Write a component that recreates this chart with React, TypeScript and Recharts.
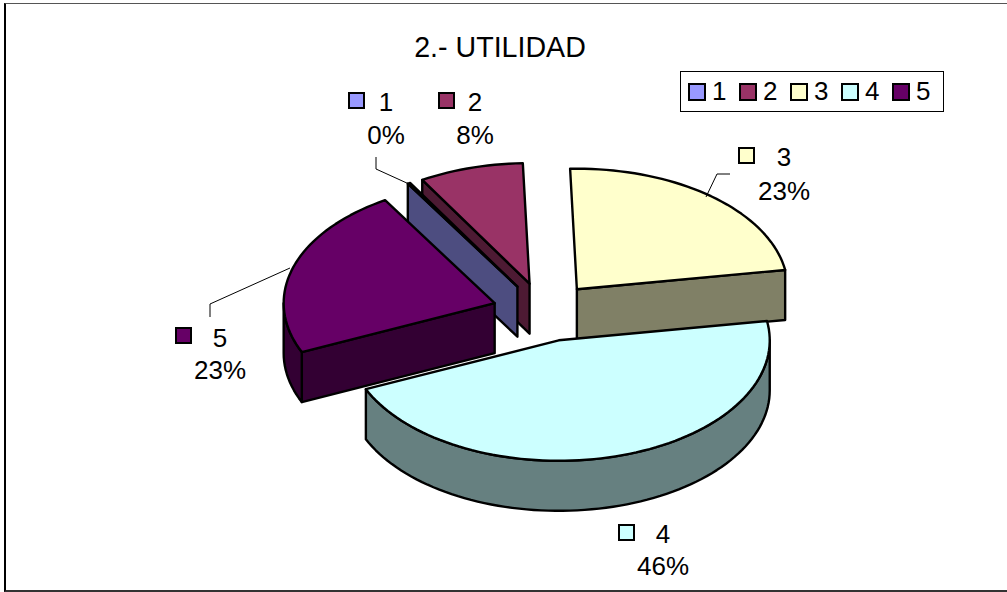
import { PieChart, Pie, Legend } from 'recharts'

const NAMES = ['1', '2', '3', '4', '5']
const VALUES = [0.2, 8, 23, 46, 23]
const TOP_COLORS = ['#9999FF', '#993366', '#FFFFCC', '#CCFFFF', '#660066']
const WALL_COLORS = ['#4D4D80', '#4D1A33', '#808066', '#668080', '#330033']

// slices are painted back to front, going anticlockwise from slice 3
const PAINT_ORDER = [2, 1, 0, 4, 3]

const FONT = '"Liberation Sans", Arial, sans-serif'
const TILT = 120.5 / 211
const DEPTH = 50
const EXPLODE = 0.245

// where each data label sits, and its leader line if it has one
const LABEL_SPOTS = [
  { keyX: 349, keyY: 93, textX: 386, nameY: 111, pctY: 144, leader: [[376, 157], [376, 169], [409, 184]] },
  { keyX: 439, keyY: 93, textX: 475, nameY: 111, pctY: 144, leader: null },
  { keyX: 739, keyY: 148, textX: 784, nameY: 166, pctY: 200, leader: [[730, 174], [717, 174], [706, 197]] },
  { keyX: 619, keyY: 525, textX: 663, nameY: 543, pctY: 575, leader: null },
  { keyX: 176, keyY: 328, textX: 220, nameY: 347, pctY: 379, leader: [[210, 317], [210, 304], [290, 268]] },
]

const chartData = PAINT_ORDER.map(i => ({ name: NAMES[i], value: VALUES[i], fill: TOP_COLORS[i], wall: WALL_COLORS[i] }))

const rad = (d: number) => (d * Math.PI) / 180

// a = degrees clockwise from the top of the pie
function rim(cx: number, cy: number, r: number, a: number) {
  return [cx + r * Math.sin(rad(a)), cy - r * TILT * Math.cos(rad(a))]
}

function arcPath(cx: number, cy: number, r: number, from: number, to: number, dy = 0) {
  const pts: string[] = []
  const steps = Math.max(2, Math.ceil(Math.abs(to - from) / 2))
  for (let i = 0; i <= steps; i++) {
    const [x, y] = rim(cx, cy, r, from + ((to - from) * i) / steps)
    pts.push(`${x.toFixed(2)} ${(y + dy).toFixed(2)}`)
  }
  return pts
}

function Slice3D(props: any) {
  const { cx, cy, outerRadius: r, startAngle, endAngle, fill, payload } = props
  const a0 = 90 - Math.max(startAngle, endAngle)
  const a1 = 90 - Math.min(startAngle, endAngle)
  const mid = (a0 + a1) / 2
  const [ox, oy] = rim(cx, cy, r * EXPLODE, mid)
  const line = { stroke: '#000', strokeWidth: 2.4, strokeLinejoin: 'round' as const }
  const wall = payload.wall ?? props.wall

  const quad = (a: number) => {
    const [x, y] = rim(ox, oy, r, a)
    return `M${ox} ${oy}L${x} ${y}L${x} ${y + DEPTH}L${ox} ${oy + DEPTH}Z`
  }
  const startSeen = Math.sin(rad(a0)) < -0.1
  const endSeen = Math.sin(rad(a1)) > 0.1

  // outer wall only for the part of the rim that faces the viewer
  const walls: { from: number; to: number }[] = []
  for (const k of [0, 360, -360]) {
    const from = Math.max(a0, 90 + k)
    const to = Math.min(a1, 270 + k)
    if (to > from) walls.push({ from, to })
  }

  const top = `M${ox} ${oy}L${arcPath(ox, oy, r, a0, a1).join('L')}Z`

  return (
    <g>
      {startSeen && <path d={quad(a0)} fill={wall} {...line} />}
      {endSeen && <path d={quad(a1)} fill={wall} {...line} />}
      {walls.map((w, i) => (
        <path
          key={i}
          d={`M${arcPath(ox, oy, r, w.from, w.to).join('L')}L${arcPath(ox, oy, r, w.to, w.from, DEPTH).join('L')}Z`}
          fill={wall}
          {...line}
        />
      ))}
      <path d={top} fill={fill} {...line} />
    </g>
  )
}

function SliceLabel(props: any) {
  const { name, percent, fill } = props
  const spot = LABEL_SPOTS[NAMES.indexOf(name)]
  return (
    <g fontFamily={FONT} fontSize={26} fill="#000" textAnchor="middle">
      {spot.leader && (
        <polyline points={spot.leader.map(p => p.join(',')).join(' ')} fill="none" stroke="#000" strokeWidth={1} />
      )}
      <rect x={spot.keyX} y={spot.keyY} width={15} height={15} fill={fill} stroke="#000" strokeWidth={2} />
      <text x={spot.textX} y={spot.nameY}>{name}</text>
      <text x={spot.textX} y={spot.pctY}>{`${Math.round(percent * 100)}%`}</text>
    </g>
  )
}

function LegendBox({ payload }: any) {
  const items = [...(payload ?? [])].sort((a: any, b: any) => NAMES.indexOf(a.value) - NAMES.indexOf(b.value))
  return (
    <div
      style={{
        boxSizing: 'border-box',
        width: 264,
        height: 41,
        border: '1px solid #000',
        background: '#fff',
        display: 'flex',
        alignItems: 'center',
        paddingLeft: 7,
        fontFamily: FONT,
        fontSize: 26,
        color: '#000',
      }}
    >
      {items.map((p: any) => (
        <div key={p.value} style={{ display: 'flex', alignItems: 'center', width: 51.2 }}>
          <span style={{ boxSizing: 'border-box', width: 18, height: 18, border: '2px solid #000', background: p.color, marginRight: 6 }} />
          <span>{p.value}</span>
        </div>
      ))}
    </div>
  )
}

export default function App() {
  return (
    <div style={{ position: 'fixed', left: 0, top: 0, width: 1007, height: 592, background: '#fff', overflow: 'hidden' }}>
      <div style={{ position: 'absolute', left: 4, top: 3, width: 1003, height: 589, borderLeft: '2px solid #000', borderTop: '1px solid #555', borderBottom: '2px solid #333', boxSizing: 'border-box' }} />
      <div style={{ position: 'absolute', left: 0, top: 0 }}>
        <PieChart width={1007} height={592} margin={{ top: 0, right: 0, bottom: 0, left: 0 }}>
          <text x={500} y={57} textAnchor="middle" fontFamily={FONT} fontSize={28.6} fill="#000">2.- UTILIDAD</text>
          <Pie
            data={chartData}
            dataKey="value"
            nameKey="name"
            cx={544}
            cy={312}
            innerRadius={0}
            outerRadius={211}
            startAngle={9.2}
            endAngle={369.2}
            stroke="none"
            shape={Slice3D}
            label={SliceLabel}
            labelLine={false}
            isAnimationActive={false}
          />
          <Legend
            layout="horizontal"
            verticalAlign="middle"
            align="right"
            content={LegendBox}
            wrapperStyle={{ left: 680, top: 71, width: 264, height: 41, right: 'auto', bottom: 'auto' }}
          />
        </PieChart>
      </div>
    </div>
  )
}
